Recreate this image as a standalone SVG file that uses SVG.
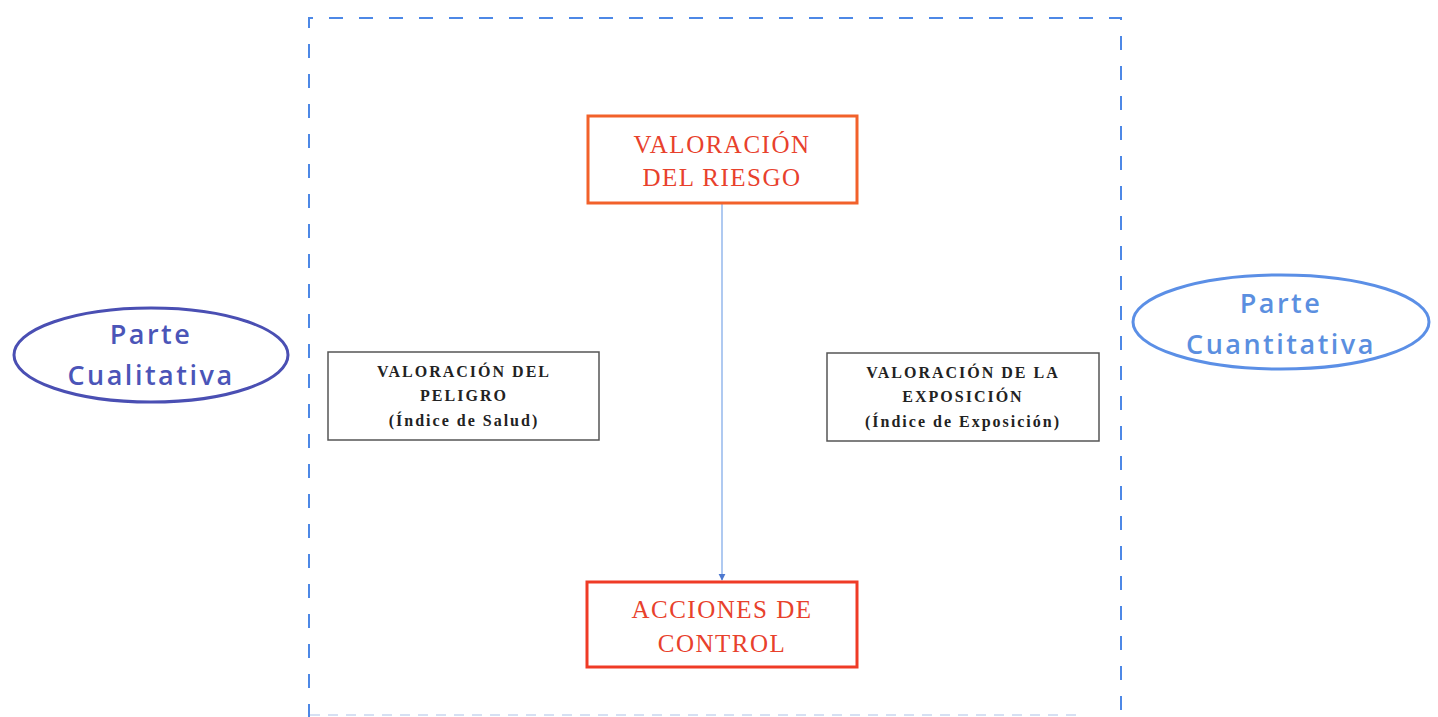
<svg xmlns="http://www.w3.org/2000/svg" width="1438" height="717" viewBox="0 0 1438 717">
<style>
.frame{fill:none;stroke:#4d88e6;stroke-width:2;stroke-dasharray:14 16}
.red{fill:#fff;stroke:#ef3b26;stroke-width:3}
.gray{fill:#fff;stroke:#555;stroke-width:1.5}
.rt{font-family:"Liberation Serif",serif;font-size:25px;fill:#e8412c;text-anchor:middle;letter-spacing:1.5px}
.bt{font-family:"Liberation Serif",serif;font-size:16px;font-weight:bold;fill:#222;text-anchor:middle;letter-spacing:2px}
.ct{font-family:"Open Sans",sans-serif;font-size:27px;font-weight:600;text-anchor:middle;letter-spacing:2.5px}
.conn{stroke:#7aa6e8;stroke-width:1.2;fill:none}
</style>
<defs>
<marker id="ah" viewBox="0 0 10 10" refX="9" refY="5" markerWidth="6" markerHeight="6" orient="auto">
<path d="M0,0 L10,5 L0,10 z" fill="#4d78d0"/>
</marker>
</defs>
<rect width="1438" height="717" fill="#fff"/>
<g id="frame">
<path class="frame" d="M309,718 L309,18 L1121,18 L1121,718"/>
<path d="M310,715 L1080,715" stroke="#c9d6f0" stroke-width="1.5" stroke-dasharray="10 8" fill="none"/>
</g>
<g id="connectors">
<line class="conn" x1="722" y1="204" x2="722" y2="580" marker-end="url(#ah)"/>
</g>
<g id="riesgo">
<rect class="red" x="588" y="116" width="269" height="87" style="stroke:#f2612a"/>
<text class="rt" x="722" y="153">VALORACIÓN</text>
<text class="rt" x="722" y="186">DEL RIESGO</text>
</g>
<g id="control">
<rect class="red" x="587" y="582" width="270" height="85"/>
<text class="rt" x="722" y="618">ACCIONES DE</text>
<text class="rt" x="722" y="652">CONTROL</text>
</g>
<g id="peligro">
<rect class="gray" x="328" y="352" width="271" height="88"/>
<text class="bt" x="464" y="377">VALORACIÓN DEL</text>
<text class="bt" x="464" y="401">PELIGRO</text>
<text class="bt" x="464" y="426">(Índice de Salud)</text>
</g>
<g id="exposicion">
<rect class="gray" x="827" y="353" width="272" height="88"/>
<text class="bt" x="963" y="378">VALORACIÓN DE LA</text>
<text class="bt" x="963" y="402">EXPOSICIÓN</text>
<text class="bt" x="963" y="427">(Índice de Exposición)</text>
</g>
<g id="cualitativa">
<ellipse cx="151" cy="355" rx="137" ry="47" fill="none" stroke="#4a4fb3" stroke-width="3"/>
<text class="ct" x="151" y="344" fill="#4b55b8">Parte</text>
<text class="ct" x="151" y="385" fill="#4b55b8">Cualitativa</text>
</g>
<g id="cuantitativa">
<ellipse cx="1281" cy="322" rx="148" ry="47" fill="none" stroke="#5b8fe6" stroke-width="3"/>
<text class="ct" x="1281" y="313" fill="#5b8fe0">Parte</text>
<text class="ct" x="1281" y="354" fill="#5b8fe0">Cuantitativa</text>
</g>
</svg>
